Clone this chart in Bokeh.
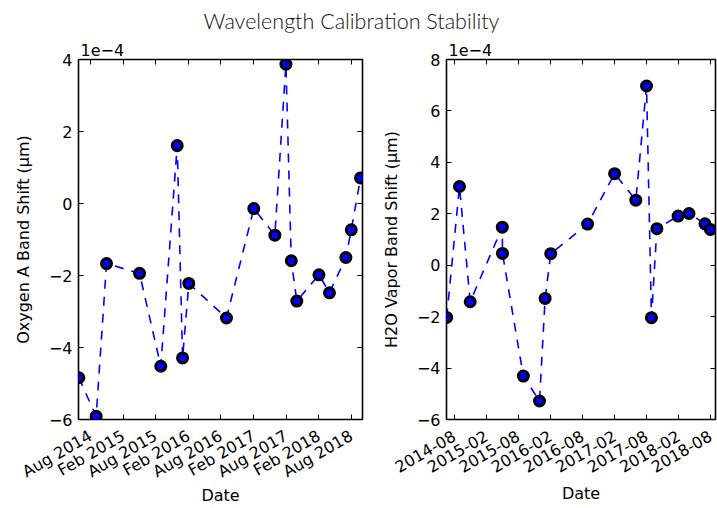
import math
from datetime import datetime
from bokeh.plotting import figure
from bokeh.models import (Range1d, FixedTicker, DatetimeTickFormatter, LinearAxis,
                          DatetimeAxis, CustomJSTickFormatter, Div)
from bokeh.layouts import row, column
from bokeh.embed import file_html
from bokeh.resources import INLINE

TITLE = "Wavelength Calibration Stability"

# ---- Oxygen A band data (shift in micrometres) ----
oxy_dates = ["2014-05-28", "2014-09-02", "2014-10-30", "2015-05-03", "2015-08-30",
             "2015-11-30", "2015-12-30", "2016-02-03", "2016-09-01", "2017-02-01",
             "2017-05-30", "2017-07-31", "2017-08-30", "2017-09-30", "2018-02-01",
             "2018-04-01", "2018-07-02", "2018-08-01", "2018-09-22"]
oxy_shift = [-4.84e-4, -5.91e-4, -1.67e-4, -1.94e-4, -4.52e-4,
             1.61e-4, -4.29e-4, -2.22e-4, -3.18e-4, -0.14e-4,
             -0.88e-4, 3.87e-4, -1.59e-4, -2.71e-4, -1.98e-4,
             -2.48e-4, -1.50e-4, -0.73e-4, 0.71e-4]

# ---- H2O vapor band data (shift in micrometres) ----
h2o_dates = ["2014-06-20", "2014-09-01", "2014-11-01", "2015-05-03", "2015-05-04",
             "2015-08-31", "2015-12-01", "2016-01-02", "2016-02-03", "2016-08-31",
             "2017-02-01", "2017-06-02", "2017-08-02", "2017-08-30", "2017-09-30",
             "2018-01-29", "2018-04-01", "2018-07-01", "2018-08-01"]
h2o_shift = [-2.03e-4, 3.06e-4, -1.42e-4, 1.48e-4, 0.46e-4,
             -4.31e-4, -5.28e-4, -1.29e-4, 0.45e-4, 1.60e-4,
             3.56e-4, 2.53e-4, 6.97e-4, -2.04e-4, 1.42e-4,
             1.91e-4, 2.01e-4, 1.61e-4, 1.39e-4]

x_tick_dates = ["2014-08-01", "2015-02-01", "2015-08-01", "2016-02-01", "2016-08-01",
                "2017-02-01", "2017-08-01", "2018-02-01", "2018-08-01"]
oxy_yticks = [-6e-4, -4e-4, -2e-4, 0.0, 2e-4, 4e-4]
h2o_yticks = [-6e-4, -4e-4, -2e-4, 0.0, 2e-4, 4e-4, 6e-4, 8e-4]
oxy_xlim = ["2014-05-26", "2018-10-03"]
h2o_xlim = ["2014-06-19", "2018-08-30"]
oxy_ylim = [-6e-4, 4e-4]
h2o_ylim = [-6e-4, 8e-4]

EPOCH = datetime(1970, 1, 1)


def to_dt(s):
    return datetime.strptime(s, "%Y-%m-%d")


def to_ms(s):
    return (to_dt(s) - EPOCH).total_seconds() * 1000.0


FONT = "DejaVu Sans"
yfmt = CustomJSTickFormatter(code="""
    const v = Math.round(tick * 1e4);
    return v < 0 ? '\\u2212' + Math.abs(v) : '' + v;
""")
blank = CustomJSTickFormatter(code="return '';")


def dt_fmt(f):
    return DatetimeTickFormatter(days=f, months=f, years=f, hours=f, hourmin=f,
                                 minutes=f, minsec=f, seconds=f, milliseconds=f,
                                 microseconds=f)


def make(dates, vals, xlim, ylim, yticks, xfmt, ylabel, width, left, right, xlab_off):
    p = figure(width=width, height=476, x_axis_type="datetime",
               output_backend="svg", toolbar_location=None,
               x_range=Range1d(to_dt(xlim[0]), to_dt(xlim[1])),
               y_range=Range1d(ylim[0], ylim[1]),
               min_border_left=left, min_border_right=right,
               min_border_top=27, min_border_bottom=89,
               title="1e\u22124", title_location="above")
    p.title.text_font = FONT
    p.title.text_font_size = "16px"
    p.title.text_font_style = "normal"
    p.title.text_color = "black"
    p.title.align = "left"
    p.title.standoff = 8
    p.title.offset = 2
    p.xgrid.visible = False
    p.ygrid.visible = False
    p.outline_line_color = "black"
    p.outline_line_width = 1.6
    p.background_fill_color = "white"
    p.border_fill_color = "white"

    xt = FixedTicker(ticks=[to_ms(d) for d in x_tick_dates], minor_ticks=[])
    yt = FixedTicker(ticks=yticks, minor_ticks=[])

    xa = p.xaxis[0]
    xa.ticker = xt
    xa.formatter = dt_fmt(xfmt)
    xa.major_label_orientation = math.pi / 6
    xa.axis_label = "Date"
    ya = p.yaxis[0]
    ya.ticker = yt
    ya.formatter = yfmt
    ya.axis_label = ylabel

    for ax in (xa, ya):
        ax.axis_line_color = None
        ax.major_tick_in = 5
        ax.major_tick_out = 0
        ax.minor_tick_line_color = None
        ax.major_tick_line_color = "black"
        ax.major_label_text_font = FONT
        ax.major_label_text_font_size = "16px"
        ax.major_label_text_color = "black"
        ax.axis_label_text_font = FONT
        ax.axis_label_text_font_size = "16px"
        ax.axis_label_text_font_style = "normal"
        ax.axis_label_text_color = "black"
    xa.major_label_standoff = 15
    xa.axis_label_standoff = xlab_off
    ya.major_label_standoff = 6
    ya.axis_label_standoff = 13

    top = DatetimeAxis(ticker=xt, formatter=blank)
    rgt = LinearAxis(ticker=yt, formatter=blank)
    for ax in (top, rgt):
        ax.axis_line_color = None
        ax.major_tick_in = 5
        ax.major_tick_out = 0
        ax.minor_tick_line_color = None
        ax.major_label_text_font_size = "0px"
        ax.major_label_standoff = 0
    p.add_layout(top, "above")
    p.add_layout(rgt, "right")

    xs = [to_dt(d) for d in dates]
    p.line(xs, vals, line_color="#0000ff", line_width=1.6, line_dash="9 8")
    p.scatter(xs, vals, size=10, fill_color="#0000ff", line_color="black",
              line_width=3)
    return p


p1 = make(oxy_dates, oxy_shift, oxy_xlim, oxy_ylim, oxy_yticks, "%b %Y",
          "Oxygen A Band Shift (\u03bcm)", 378, 78, 16, -6)
p2 = make(h2o_dates, h2o_shift, h2o_xlim, h2o_ylim, h2o_yticks, "%Y-%m",
          "H2O Vapor Band Shift (\u03bcm)", 339, 66, 2, 3)

title = Div(text=TITLE, width=703, height=32, margin=0,
            styles={"font-family": "Lato", "font-size": "21.5px", "font-weight": "300",
                    "text-align": "center", "color": "#111111", "padding-top": "9px",
                    "line-height": "24px"})

layout = column(title, row(p1, p2, margin=0), margin=0)

open("out.html", "w").write(file_html(layout, INLINE, TITLE))
